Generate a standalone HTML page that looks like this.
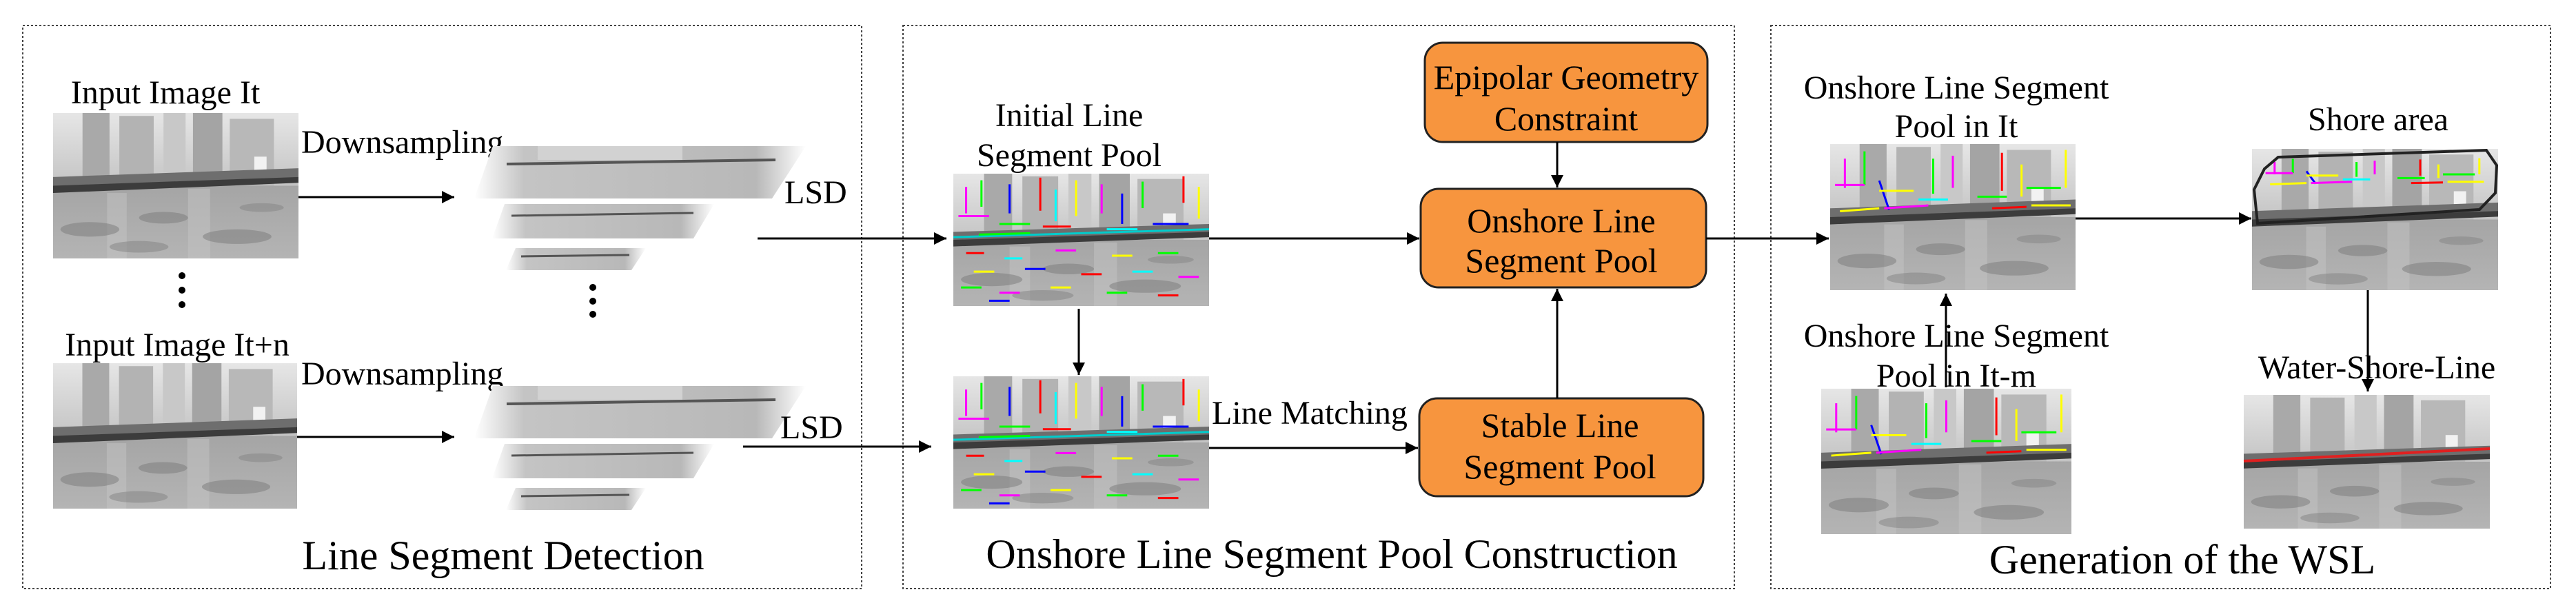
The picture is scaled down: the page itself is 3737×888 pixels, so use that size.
<!DOCTYPE html>
<html><head><meta charset="utf-8"><style>
html,body{margin:0;padding:0;background:#fff;}
svg{display:block;}
text{font-family:"Liberation Serif","DejaVu Serif",serif;fill:#000;}
</style></head><body>
<svg width="3737" height="888" viewBox="0 0 3737 888" xmlns="http://www.w3.org/2000/svg" font-family="Liberation Serif, serif">
<defs>
<marker id="a" viewBox="0 0 10 10" refX="10" refY="5" markerWidth="18" markerHeight="18" markerUnits="userSpaceOnUse" orient="auto"><path d="M0,0 L10,5 L0,10 z" fill="#000"/></marker>
<linearGradient id="sky" x1="0" y1="0" x2="0" y2="1"><stop offset="0" stop-color="#e6e6e6"/><stop offset="1" stop-color="#c4c4c4"/></linearGradient>
<linearGradient id="wat" x1="0" y1="0" x2="0" y2="1"><stop offset="0" stop-color="#969696"/><stop offset="1" stop-color="#b4b4b4"/></linearGradient>
<symbol id="scene" viewBox="0 0 100 100" preserveAspectRatio="none">
<rect width="100" height="100" fill="url(#wat)"/>
<rect width="100" height="50" fill="url(#sky)"/>
<rect x="12" y="0" width="11" height="50" fill="#a9a9a9"/>
<rect x="27" y="2" width="14" height="48" fill="#b3b3b3"/>
<rect x="45" y="0" width="9" height="50" fill="#c8c8c8"/>
<rect x="57" y="0" width="12" height="50" fill="#a4a4a4"/>
<rect x="72" y="4" width="18" height="46" fill="#b8b8b8"/>
<rect x="82" y="30" width="5" height="12" fill="#f2f2f2"/>
<polygon points="0,44 100,38 100,47 0,54" fill="#6e6e6e"/>
<polygon points="0,50 100,44 100,48 0,55" fill="#3c3c3c"/>
<rect x="22" y="55" width="8" height="45" fill="#c4c4c4" opacity=".5"/>
<rect x="55" y="52" width="9" height="48" fill="#c4c4c4" opacity=".5"/>
<ellipse cx="15" cy="80" rx="12" ry="5" fill="#7a7a7a" opacity=".5"/>
<ellipse cx="45" cy="72" rx="10" ry="4" fill="#7a7a7a" opacity=".5"/>
<ellipse cx="75" cy="85" rx="14" ry="5" fill="#7a7a7a" opacity=".5"/>
<ellipse cx="85" cy="65" rx="9" ry="3" fill="#7a7a7a" opacity=".4"/>
<ellipse cx="35" cy="92" rx="12" ry="4" fill="#757575" opacity=".4"/>
</symbol>
<symbol id="segs" viewBox="0 0 100 100" preserveAspectRatio="none">
<g stroke-width="3" fill="none">
<line x1="5" y1="10" x2="5" y2="30" stroke="#f0f" vector-effect="non-scaling-stroke"/>
<line x1="11" y1="5" x2="11" y2="25" stroke="#0f0" vector-effect="non-scaling-stroke"/>
<line x1="22" y1="8" x2="22" y2="30" stroke="#00f" vector-effect="non-scaling-stroke"/>
<line x1="34" y1="3" x2="34" y2="28" stroke="#f00" vector-effect="non-scaling-stroke"/>
<line x1="40" y1="12" x2="40" y2="36" stroke="#0ff" vector-effect="non-scaling-stroke"/>
<line x1="48" y1="5" x2="48" y2="32" stroke="#ff0" vector-effect="non-scaling-stroke"/>
<line x1="58" y1="8" x2="58" y2="30" stroke="#f0f" vector-effect="non-scaling-stroke"/>
<line x1="66" y1="15" x2="66" y2="38" stroke="#00f" vector-effect="non-scaling-stroke"/>
<line x1="74" y1="6" x2="74" y2="26" stroke="#0f0" vector-effect="non-scaling-stroke"/>
<line x1="90" y1="2" x2="90" y2="22" stroke="#f00" vector-effect="non-scaling-stroke"/>
<line x1="96" y1="10" x2="96" y2="34" stroke="#ff0" vector-effect="non-scaling-stroke"/>
<line x1="2" y1="32" x2="14" y2="32" stroke="#f0f" vector-effect="non-scaling-stroke"/>
<line x1="18" y1="38" x2="30" y2="38" stroke="#0f0" vector-effect="non-scaling-stroke"/>
<line x1="35" y1="40" x2="46" y2="40" stroke="#f00" vector-effect="non-scaling-stroke"/>
<line x1="60" y1="42" x2="72" y2="42" stroke="#0ff" vector-effect="non-scaling-stroke"/>
<line x1="78" y1="38" x2="92" y2="38" stroke="#00f" vector-effect="non-scaling-stroke"/>
<line x1="0" y1="48" x2="100" y2="42" stroke="#0cc" vector-effect="non-scaling-stroke"/>
<line x1="10" y1="46" x2="30" y2="45" stroke="#0f0" vector-effect="non-scaling-stroke"/>
<line x1="5" y1="60" x2="12" y2="60" stroke="#f00" vector-effect="non-scaling-stroke"/>
<line x1="20" y1="64" x2="27" y2="64" stroke="#0ff" vector-effect="non-scaling-stroke"/>
<line x1="40" y1="58" x2="48" y2="58" stroke="#f0f" vector-effect="non-scaling-stroke"/>
<line x1="62" y1="62" x2="70" y2="62" stroke="#ff0" vector-effect="non-scaling-stroke"/>
<line x1="80" y1="60" x2="88" y2="60" stroke="#0f0" vector-effect="non-scaling-stroke"/>
<line x1="8" y1="74" x2="16" y2="74" stroke="#ff0" vector-effect="non-scaling-stroke"/>
<line x1="28" y1="72" x2="36" y2="72" stroke="#00f" vector-effect="non-scaling-stroke"/>
<line x1="50" y1="76" x2="58" y2="76" stroke="#f00" vector-effect="non-scaling-stroke"/>
<line x1="70" y1="74" x2="78" y2="74" stroke="#0ff" vector-effect="non-scaling-stroke"/>
<line x1="88" y1="78" x2="96" y2="78" stroke="#f0f" vector-effect="non-scaling-stroke"/>
<line x1="3" y1="86" x2="11" y2="86" stroke="#0f0" vector-effect="non-scaling-stroke"/>
<line x1="18" y1="90" x2="26" y2="90" stroke="#f0f" vector-effect="non-scaling-stroke"/>
<line x1="38" y1="86" x2="46" y2="86" stroke="#ff0" vector-effect="non-scaling-stroke"/>
<line x1="60" y1="90" x2="68" y2="90" stroke="#0f0" vector-effect="non-scaling-stroke"/>
<line x1="80" y1="92" x2="88" y2="92" stroke="#f00" vector-effect="non-scaling-stroke"/>
<line x1="14" y1="96" x2="22" y2="96" stroke="#00f" vector-effect="non-scaling-stroke"/>
</g>
</symbol>
<symbol id="segsT" viewBox="0 0 100 100" preserveAspectRatio="none">
<g stroke-width="3" fill="none">
<line x1="6" y1="10" x2="6" y2="30" stroke="#f0f" vector-effect="non-scaling-stroke"/>
<line x1="14" y1="5" x2="14" y2="28" stroke="#0f0" vector-effect="non-scaling-stroke"/>
<line x1="20" y1="25" x2="24" y2="45" stroke="#00f" vector-effect="non-scaling-stroke"/>
<line x1="42" y1="10" x2="42" y2="34" stroke="#0f0" vector-effect="non-scaling-stroke"/>
<line x1="50" y1="8" x2="50" y2="30" stroke="#f0f" vector-effect="non-scaling-stroke"/>
<line x1="70" y1="6" x2="70" y2="32" stroke="#f00" vector-effect="non-scaling-stroke"/>
<line x1="78" y1="14" x2="78" y2="36" stroke="#ff0" vector-effect="non-scaling-stroke"/>
<line x1="96" y1="4" x2="96" y2="30" stroke="#ff0" vector-effect="non-scaling-stroke"/>
<line x1="2" y1="28" x2="14" y2="28" stroke="#f0f" vector-effect="non-scaling-stroke"/>
<line x1="20" y1="32" x2="34" y2="32" stroke="#ff0" vector-effect="non-scaling-stroke"/>
<line x1="36" y1="38" x2="48" y2="38" stroke="#0ff" vector-effect="non-scaling-stroke"/>
<line x1="60" y1="36" x2="72" y2="36" stroke="#0f0" vector-effect="non-scaling-stroke"/>
<line x1="80" y1="30" x2="94" y2="30" stroke="#0f0" vector-effect="non-scaling-stroke"/>
<line x1="4" y1="46" x2="20" y2="44" stroke="#ff0" vector-effect="non-scaling-stroke"/>
<line x1="22" y1="44" x2="40" y2="42" stroke="#f0f" vector-effect="non-scaling-stroke"/>
<line x1="66" y1="44" x2="80" y2="43" stroke="#f00" vector-effect="non-scaling-stroke"/>
<line x1="82" y1="42" x2="98" y2="42" stroke="#ff0" vector-effect="non-scaling-stroke"/>
</g>
</symbol>
<linearGradient id="pyr" x1="0" y1="0" x2="1" y2="0"><stop offset="0" stop-color="#fff"/><stop offset=".15" stop-color="#c4c4c4"/><stop offset=".85" stop-color="#b8b8b8"/><stop offset="1" stop-color="#fff"/></linearGradient>
<g id="pyramid">
<polygon points="715,212 1169,212 1120,288 688,288" fill="url(#pyr)"/>
<line x1="735" y1="238" x2="1125" y2="232" stroke="#555" stroke-width="4"/>
<rect x="780" y="212" width="210" height="20" fill="#d2d2d2"/>
<polygon points="732,296 1036,296 1006,346 714,346" fill="url(#pyr)"/>
<line x1="742" y1="313" x2="1006" y2="309" stroke="#555" stroke-width="3"/>
<polygon points="748,360 937,360 916,392 734,392" fill="url(#pyr)"/>
<line x1="756" y1="372" x2="913" y2="370" stroke="#555" stroke-width="3"/>
</g>
</defs>
<rect width="3737" height="888" fill="#fff"/>
<g fill="none" stroke="#444" stroke-width="2" stroke-dasharray="3,3">
<rect x="33" y="37" width="1217" height="817"/>
<rect x="1310" y="37" width="1206" height="817"/>
<rect x="2569" y="37" width="1131" height="817"/>
</g>

<text x="240" y="150" font-size="48" text-anchor="middle">Input Image It</text>
<use href="#scene" x="77" y="164" width="356" height="211"/>
<text x="437" y="222" font-size="48">Downsampling</text>
<line x1="433" y1="286" x2="659" y2="286" stroke="#000" stroke-width="3" marker-end="url(#a)"/>
<use href="#pyramid"/>
<circle cx="264" cy="400" r="5"/><circle cx="264" cy="421" r="5"/><circle cx="264" cy="442" r="5"/>
<circle cx="860" cy="417" r="5"/><circle cx="860" cy="437" r="5"/><circle cx="860" cy="456" r="5"/>
<text x="257" y="516" font-size="48" text-anchor="middle">Input Image It+n</text>
<use href="#scene" x="77" y="527" width="354" height="211"/>
<text x="437" y="558" font-size="48">Downsampling</text>
<line x1="431" y1="634" x2="659" y2="634" stroke="#000" stroke-width="3" marker-end="url(#a)"/>
<use href="#pyramid" y="348"/>
<text x="1138" y="295" font-size="48">LSD</text>
<text x="1132" y="636" font-size="48">LSD</text>
<line x1="1099" y1="346" x2="1373" y2="346" stroke="#000" stroke-width="3" marker-end="url(#a)"/>
<line x1="1078" y1="648" x2="1351" y2="648" stroke="#000" stroke-width="3" marker-end="url(#a)"/>
<text x="730" y="826" font-size="60" text-anchor="middle">Line Segment Detection</text>

<text x="1551" y="183" font-size="48" text-anchor="middle">Initial Line</text>
<text x="1551" y="241" font-size="48" text-anchor="middle">Segment Pool</text>
<use href="#scene" x="1383" y="252" width="371" height="192"/>
<use href="#segs" x="1383" y="252" width="371" height="192"/>
<use href="#scene" x="1383" y="546" width="371" height="192"/>
<use href="#segs" x="1383" y="546" width="371" height="192"/>
<line x1="1565" y1="448" x2="1565" y2="544" stroke="#000" stroke-width="3" marker-end="url(#a)"/>
<g fill="#F7953E" stroke="#222" stroke-width="3">
<rect x="2067" y="62" width="410" height="144" rx="26"/>
<rect x="2061" y="274" width="414" height="143" rx="26"/>
<rect x="2059" y="578" width="412" height="142" rx="26"/>
</g>
<g font-size="50" text-anchor="middle">
<text x="2272" y="129">Epipolar Geometry</text>
<text x="2272" y="189">Constraint</text>
<text x="2265" y="337">Onshore Line</text>
<text x="2265" y="395">Segment Pool</text>
<text x="2263" y="634">Stable Line</text>
<text x="2263" y="694">Segment Pool</text>
</g>
<line x1="2259" y1="206" x2="2259" y2="272" stroke="#000" stroke-width="3" marker-end="url(#a)"/>
<line x1="2259" y1="578" x2="2259" y2="419" stroke="#000" stroke-width="3" marker-end="url(#a)"/>
<line x1="1754" y1="346" x2="2059" y2="346" stroke="#000" stroke-width="3" marker-end="url(#a)"/>
<line x1="1754" y1="650" x2="2057" y2="650" stroke="#000" stroke-width="3" marker-end="url(#a)"/>
<text x="1758" y="615" font-size="48">Line Matching</text>
<text x="1932" y="824" font-size="60" text-anchor="middle">Onshore Line Segment Pool Construction</text>
<line x1="2475" y1="346" x2="2653" y2="346" stroke="#000" stroke-width="3" marker-end="url(#a)"/>

<text x="2838" y="143" font-size="48" text-anchor="middle">Onshore Line Segment</text>
<text x="2838" y="199" font-size="48" text-anchor="middle">Pool in It</text>
<use href="#scene" x="2655" y="209" width="356" height="212"/>
<use href="#segsT" x="2655" y="209" width="356" height="212"/>
<line x1="3011" y1="317" x2="3266" y2="317" stroke="#000" stroke-width="3" marker-end="url(#a)"/>
<text x="3450" y="189" font-size="48" text-anchor="middle">Shore area</text>
<use href="#scene" x="3267" y="216" width="357" height="205"/>
<use href="#segsT" x="3280" y="226" width="330" height="90"/>
<polygon points="3305,228 3607,218 3622,240 3620,280 3597,304 3275,324 3270,275 3285,245" fill="none" stroke="#222" stroke-width="4"/>
<line x1="3435" y1="421" x2="3435" y2="568" stroke="#000" stroke-width="3" marker-end="url(#a)"/>
<text x="3448" y="549" font-size="48" text-anchor="middle">Water-Shore-Line</text>
<use href="#scene" x="3255" y="573" width="357" height="194"/>
<line x1="3255" y1="669" x2="3612" y2="651" stroke="#e02020" stroke-width="4"/>
<text x="2838" y="503" font-size="48" text-anchor="middle">Onshore Line Segment</text>
<text x="2838" y="561" font-size="48" text-anchor="middle">Pool in It-m</text>
<use href="#scene" x="2642" y="564" width="363" height="211"/>
<use href="#segsT" x="2642" y="564" width="363" height="211"/>
<line x1="2823" y1="562" x2="2823" y2="426" stroke="#000" stroke-width="3" marker-end="url(#a)"/>
<text x="3166" y="832" font-size="60" text-anchor="middle">Generation of the WSL</text>
</svg>
</body></html>
